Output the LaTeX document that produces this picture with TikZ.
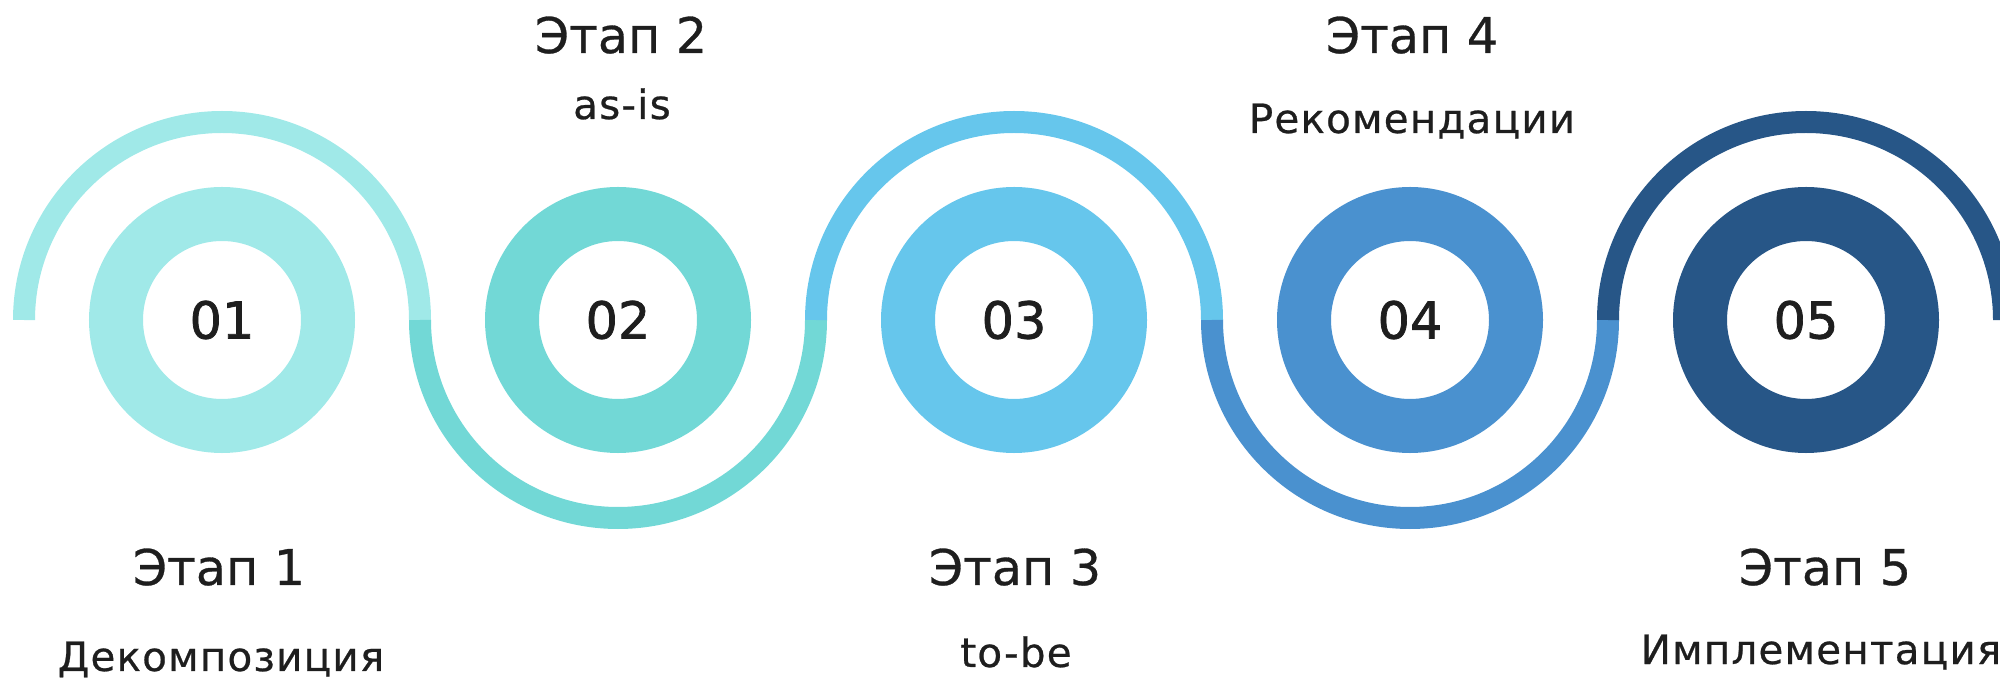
\documentclass[tikz,border=0pt]{standalone}
\usepackage{fontspec}
\setmainfont{DejaVu Sans}[FakeBold=0.6]
\newfontfamily\subfont[LetterSpace=3,FakeBold=0.6]{DejaVu Sans}
\newfontfamily\numfont[FakeBold=1.4]{DejaVu Sans}

\definecolor{stepA}{RGB}{160,233,232}
\definecolor{stepB}{RGB}{114,216,214}
\definecolor{stepC}{RGB}{102,198,236}
\definecolor{stepD}{RGB}{74,145,207}
\definecolor{stepE}{RGB}{39,86,135}
\definecolor{ink}{RGB}{30,30,30}

\begin{document}
\begin{tikzpicture}[
    ring/.style={circle, draw=#1, line width=5.4mm, minimum size=21.2mm, inner sep=0pt,
                 text=ink, font=\fontsize{14.5}{17}\selectfont\numfont},
    wave/.style={draw=#1, line width=2.2mm},
    title/.style={anchor=base, text=ink, font=\fontsize{14}{17}\selectfont},
    subtitle/.style={anchor=base, text=ink, font=\fontsize{11.5}{14}\selectfont\subfont}]
	\clip (0,0) rectangle (20,6.81);
	% stages
	\node[ring=stepA] (s1) at (2.22,3.61) {\raisebox{-0.5mm}{01}};
	\node[ring=stepB] (s2) at (6.18,3.61) {\raisebox{-0.5mm}{02}};
	\node[ring=stepC] (s3) at (10.14,3.61) {\raisebox{-0.5mm}{03}};
	\node[ring=stepD] (s4) at (14.10,3.61) {\raisebox{-0.5mm}{04}};
	\node[ring=stepE] (s5) at (18.06,3.61) {\raisebox{-0.5mm}{05}};
	% waves
	\draw[wave=stepA] ([xshift=-19.8mm]s1.center) arc[start angle=180, end angle=0, radius=19.8mm];
	\draw[wave=stepB] ([xshift=-19.8mm]s2.center) arc[start angle=180, end angle=360, radius=19.8mm];
	\draw[wave=stepC] ([xshift=-19.8mm]s3.center) arc[start angle=180, end angle=0, radius=19.8mm];
	\draw[wave=stepD] ([xshift=-19.8mm]s4.center) arc[start angle=180, end angle=360, radius=19.8mm];
	\draw[wave=stepE] ([xshift=-19.8mm]s5.center) arc[start angle=180, end angle=0, radius=19.8mm];
	% labels
	\node[title] (t1) at (2.19,0.96) {Этап 1};
	\node[subtitle] (d1) at (2.21,0.10) {Декомпозиция};
	\node[title] (t2) at (6.21,6.28) {Этап 2};
	\node[subtitle] (d2) at (6.22,5.62) {as-is};
	\node[title] (t3) at (10.15,0.96) {Этап 3};
	\node[subtitle] (d3) at (10.16,0.14) {to-be};
	\node[title] (t4) at (14.12,6.28) {Этап 4};
	\node[subtitle] (d4) at (14.12,5.48) {Рекомендации};
	\node[title] (t5) at (18.25,0.96) {Этап 5};
	\node[subtitle] (d5) at (18.21,0.17) {Имплементация};
\end{tikzpicture}
\end{document}
